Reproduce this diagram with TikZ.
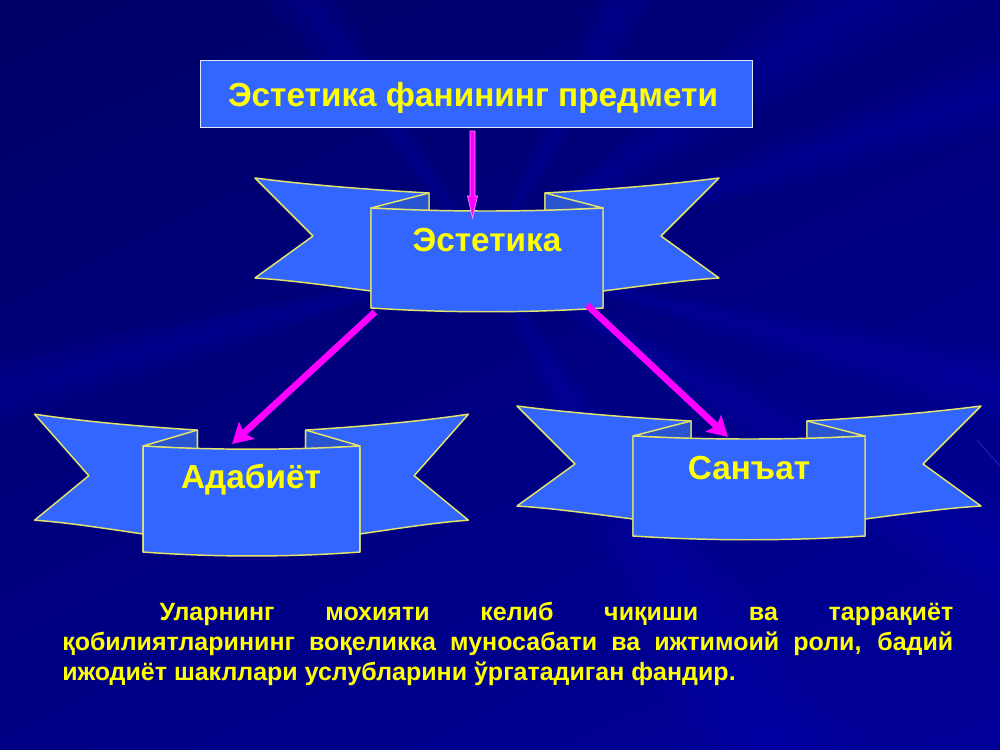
\documentclass[tikz,border=0pt]{standalone}
\usepackage{fontspec}
\setmainfont{Liberation Sans}
\usetikzlibrary{arrows.meta}
\definecolor{ribbonblue}{HTML}{3366FF}
\definecolor{folddark}{HTML}{2A55D0}
\definecolor{edgeyellow}{HTML}{E4E46A}
\definecolor{bgdark}{HTML}{000064}
\definecolor{bgmid}{HTML}{00009C}
\definecolor{raycol}{HTML}{0000E0}
\definecolor{textyellow}{HTML}{FFFF00}
\definecolor{arrowmag}{HTML}{FF00FF}
\tikzset{
  ribbonpart/.style={draw=edgeyellow,line width=1.1pt,fill=ribbonblue,line join=round},
  foldpart/.style={draw=edgeyellow,line width=1.1pt,fill=folddark,line join=round},
  labeltext/.style={text=textyellow,font=\bfseries\fontsize{25}{29}\selectfont,inner sep=0pt},
  titlebox/.style={draw=white!85!ribbonblue,line width=1pt,fill=ribbonblue,minimum width=414pt,minimum height=50pt,inner sep=0pt},
  boldarrow/.style={draw=arrowmag,line width=5pt,-{Stealth[length=15pt,width=17pt,inset=3pt]}},
  thinarrow/.style={draw=white!55!arrowmag,line width=.5pt,fill=arrowmag},
  softray/.style={fill=raycol,draw=none,fill opacity=.05}
}
\newcommand{\ribbonshape}{%
  \path[ribbonpart] (-116,100) -- (-116,83) .. controls (-170,76) and (-200,72) .. (-232,70)
    -- (-174,28) -- (-232,-30) .. controls (-170,-22) and (-110,-18) .. (-58,-15) -- (-58,3) -- (-116,3) -- cycle;
  \path[ribbonpart] (116,100) -- (116,83) .. controls (170,76) and (200,72) .. (232,70)
    -- (174,28) -- (232,-30) .. controls (170,-22) and (110,-18) .. (58,-15) -- (58,3) -- (116,3) -- cycle;
  \path[foldpart] (-116,0) -- (-58,-15) -- (-58,3) -- cycle;
  \path[foldpart] (116,0) -- (58,-15) -- (58,3) -- cycle;
  \path[ribbonpart] (-116,0) .. controls (-40,4) and (40,4) .. (116,0) -- (116,100)
    .. controls (40,105) and (-40,105) .. (-116,100) -- cycle;
}
% soft ray fanning out from the focal point: angle, half-spread
\newcommand{\softbeam}[2]{%
  \foreach \k in {1,.75,.5,.25}{%
    \pgfmathsetmacro{\aone}{#1-#2*\k}%
    \pgfmathsetmacro{\atwo}{#1+#2*\k}%
    \path[softray] (487,260) -- ++(\aone:1500) -- ++({1500*(cos(\atwo)-cos(\aone))},{1500*(sin(\atwo)-sin(\aone))}) -- cycle;
  }%
}
\begin{document}
\begin{tikzpicture}[x=.75pt,y=-.75pt]
\useasboundingbox (0,0) rectangle (1000,750);
\begin{scope}
\clip (0,0) rectangle (1000,750);
\shade[shading=axis,bottom color=bgmid,top color=bgdark,shading angle=25] (-200,-200) rectangle (1200,950);
\softbeam{-35}{7}
\softbeam{-18}{4}
\softbeam{-62}{6}
\softbeam{-125}{6}
\softbeam{14}{4}
\softbeam{30}{5}
\softbeam{60}{8}
\softbeam{165}{4}
\path[draw=raycol!70!white,line width=.6pt,opacity=.5] (977,440) -- (1000,466);
\end{scope}
% ribbons
\begin{scope}[shift={(487,208)}]\ribbonshape\end{scope}
\begin{scope}[shift={(251.5,446)},xscale=.935,yscale=1.06]\ribbonshape\end{scope}
\begin{scope}[shift={(749,436)}]\ribbonshape\end{scope}
% title
\node[titlebox,anchor=north west] (title) at (200,60) {};
\node[labeltext,anchor=center] (titletext) at (473,98) {Эстетика фанининг предмети};
\node[labeltext] (est) at (487,240) {Эстетика};
\node[labeltext] (ada) at (251,480) {Адабиёт};
\node[labeltext] (san) at (749,468) {Санъат};
% connector ends
\coordinate (thinstart) at (472.5,131);
\coordinate (thinend) at (472.5,218);
\coordinate (leftstart) at (375,312);
\coordinate (leftend) at (232,444);
\coordinate (rightstart) at (587,305);
\coordinate (rightend) at (728,437);
\draw[boldarrow] (leftstart) -- (leftend);
\draw[boldarrow] (rightstart) -- (rightend);
\path[thinarrow] (thinend) -- ++(5,-22) -- ++(-2.5,0) -- ++(0,-65) -- ++(-5,0) -- ++(0,65) -- ++(-2.5,0) -- cycle;
% paragraph
\node[anchor=north west,text width=668.25pt,inner sep=0pt,align=justify,text=textyellow] (para) at (62,602)
 {\fontsize{18.75}{22.5}\selectfont\bfseries\hspace*{73pt}Уларнинг мохияти келиб чиқиши ва таррақиёт\linebreak қобилиятларининг воқеликка муносабати ва ижтимоий роли, бадий\linebreak ижодиёт шакллари услубларини ўргатадиган фандир.\par};
\end{tikzpicture}
\end{document}
